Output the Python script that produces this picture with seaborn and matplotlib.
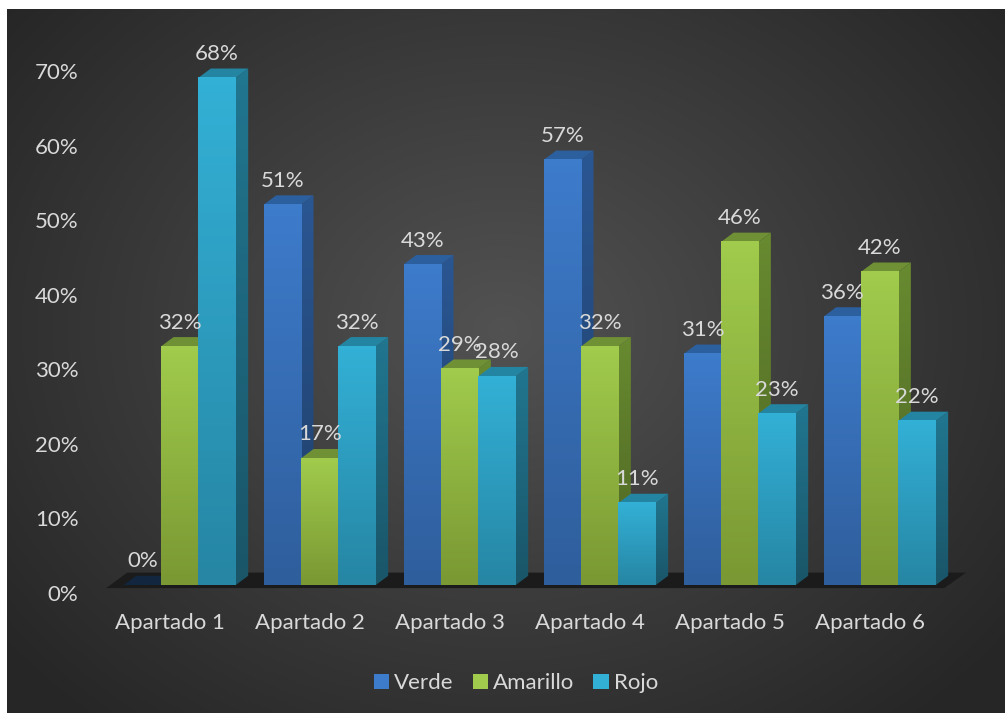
import matplotlib
matplotlib.use("Agg")
import matplotlib.pyplot as plt
import numpy as np
import pandas as pd
import seaborn as sns
from matplotlib.colors import LinearSegmentedColormap
from matplotlib.patches import Patch, Polygon
from matplotlib.transforms import ScaledTranslation

categories = ['Apartado 1', 'Apartado 2', 'Apartado 3', 'Apartado 4', 'Apartado 5', 'Apartado 6']
series_names = ['Verde', 'Amarillo', 'Rojo']
verde = [0, 51, 43, 57, 31, 36]
amarillo = [32, 17, 29, 32, 46, 42]
rojo = [68, 32, 28, 11, 23, 22]
y_ticks = [0, 10, 20, 30, 40, 50, 60, 70]

# front top, front bottom, side top, side bottom, lid
shades = {
    'Verde': ['#3d7bcb', '#2f5e9c', '#2a5692', '#1f3f69', '#2b5f9e'],
    'Amarillo': ['#a0cb4c', '#7a9833', '#688a30', '#4c6423', '#6f9034'],
    'Rojo': ['#33b0d6', '#2686a4', '#217690', '#1a5568', '#2485a3'],
}
text_color = '#d9d9d9'

W, H = 1005, 713
sns.set_theme(style='white')
plt.rcParams['font.family'] = ['Lato', 'DejaVu Sans']

df = pd.DataFrame({
    'Apartado': categories * 3,
    'Serie': np.repeat(series_names, 6),
    'Valor': verde + amarillo + rojo,
})

fig = plt.figure(figsize=(W / 100, H / 100), dpi=100, facecolor='white')

# dark radial backdrop
bg = fig.add_axes([7 / W, 0, (W - 7) / W, (H - 9) / H], zorder=0)
yy, xx = np.mgrid[0:704, 0:998]
dist = np.sqrt(((xx - 495) / 640) ** 2 + ((yy - 320) / 520) ** 2)
bg_cmap = LinearSegmentedColormap.from_list('bg', ['#525252', '#3c3c3c', '#262626'])
bg.imshow(np.clip(dist, 0, 1), cmap=bg_cmap, vmin=0, vmax=1, aspect='auto')
bg.axis('off')

# 0% sits near y=585 px, 7.46 px for each percent, 140 px per group
ax = fig.add_axes([109.7 / W, (H - 585.1) / H, 840 / W, 522.2 / H], zorder=1)
ax.patch.set_alpha(0)
sns.barplot(data=df, x='Apartado', y='Valor', hue='Serie', order=categories,
            hue_order=series_names, width=0.8, gap=0, saturation=1,
            legend=False, errorbar=None, ax=ax)
ax.set_xlim(-0.5, 5.5)
ax.set_ylim(0, 70)
sns.despine(ax=ax, left=True, bottom=True)
ax.set_xlabel('')
ax.set_ylabel('')

dx = 12.5 / 140
dy = 9.3 / 7.46

# dark floor under the bars
floor_x = [(107 - 110.5) / 140 - 0.5, (128 - 110.5) / 140 - 0.5,
           (967 - 110.5) / 140 - 0.5, (945 - 110.5) / 140 - 0.5]
floor_y = [-3 / 7.46, 12.5 / 7.46, 12.5 / 7.46, -3 / 7.46]
ax.add_patch(Polygon(np.column_stack([floor_x, floor_y]), closed=True, fc='#1b1b1b',
                     ec='none', clip_on=False, zorder=1.5))

ramp = np.linspace(0, 1, 64).reshape(-1, 1)
z = 2
rows = []
for s, name in enumerate(series_names):
    container = ax.containers[s]
    for bar in container:
        rows.append((bar.get_x(), bar, name))
rows.sort(key=lambda r: r[0])

for x0, bar, name in rows:
    c = shades[name]
    w = bar.get_width()
    h = bar.get_height()
    bar.set_visible(False)
    if h > 0:
        side = Polygon([(x0 + w, 0), (x0 + w + dx, dy), (x0 + w + dx, h + dy), (x0 + w, h)],
                       closed=True, transform=ax.transData)
        im = ax.imshow(ramp, extent=(x0 + w, x0 + w + dx, 0, h + dy), aspect='auto', zorder=z,
                       cmap=LinearSegmentedColormap.from_list('s', [c[2], c[3]]))
        im.set_clip_path(side)
        ax.imshow(ramp, extent=(x0, x0 + w, 0, h), aspect='auto', zorder=z + 0.2,
                  cmap=LinearSegmentedColormap.from_list('f', [c[0], c[1]]))
    lid = c[4] if h > 0 else '#12263f'
    ax.add_patch(Polygon([(x0, h), (x0 + dx, h + dy), (x0 + w + dx, h + dy), (x0 + w, h)],
                         closed=True, fc=lid, ec='none', zorder=z + 0.1))
    ax.annotate(f'{h:.0f}%', (x0 + w / 2, h), xytext=(0, 23.8 * 0.72), textcoords='offset points',
                ha='center', va='center', fontsize=16, color=text_color, zorder=50,
                annotation_clip=False)
    z += 1

ax.set_xlim(-0.5, 5.5)
ax.set_ylim(0, 70)
ax.set_yticks(y_ticks)
ax.set_yticklabels([f'{t}%' for t in y_ticks])
ax.tick_params(axis='both', length=0, labelsize=16, labelcolor=text_color)
ax.tick_params(axis='y', pad=22.4)
ax.tick_params(axis='x', pad=20)

# axis text is pushed off the front plane, as in the 3D original
for label in ax.get_yticklabels():
    label.set_transform(label.get_transform() + ScaledTranslation(0, -8 / 72 * 0.72, fig.dpi_scale_trans))
for label in ax.get_xticklabels():
    label.set_transform(label.get_transform() + ScaledTranslation(-9.8 / 72 * 0.72, 0, fig.dpi_scale_trans))

handles = [Patch(facecolor=shades[n][0], edgecolor='none', label=n) for n in series_names]
fig.legend(handles=handles, loc='center', bbox_to_anchor=(516 / W, (H - 683) / H), ncol=3,
           frameon=False, fontsize=16, labelcolor=text_color, handlelength=0.68, handleheight=0.68,
           handletextpad=0.25, columnspacing=0.85)

fig.savefig('out.png', dpi=100, facecolor='white')
